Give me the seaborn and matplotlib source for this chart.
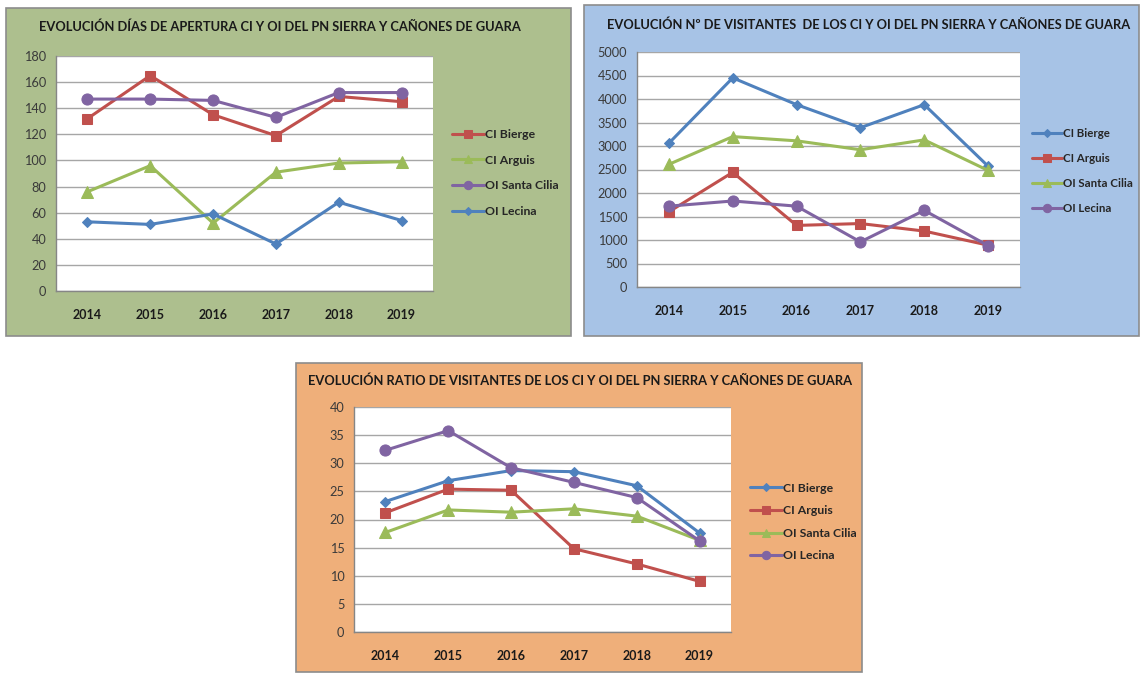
"""
Evolución de días de apertura, visitantes y ratio de visitantes
de los CI y OI del PN Sierra y Cañones de Guara (2014-2019).
"""
import matplotlib
matplotlib.use("Agg")

import pandas as pd
import matplotlib.pyplot as plt
from matplotlib.patches import Rectangle
import seaborn as sns

# ── Data ─────────────────────────────────────────────────────────────────────
YEARS = ["2014", "2015", "2016", "2017", "2018", "2019"]

# Panel 1: días de apertura
dias_bierge      = [132, 165, 135, 119, 149, 145]
dias_arguis      = [76, 96, 52, 91, 98, 99]
dias_santa_cilia = [147, 147, 146, 133, 152, 152]
dias_lecina      = [53, 51, 59, 36, 68, 54]

# Panel 2: nº de visitantes
vis_bierge      = [3060, 4450, 3880, 3390, 3880, 2570]
vis_arguis      = [1600, 2440, 1310, 1350, 1190, 890]
vis_santa_cilia = [2610, 3200, 3110, 2920, 3130, 2480]
vis_lecina      = [1720, 1830, 1720, 960, 1630, 880]

# Panel 3: ratio de visitantes
rat_bierge      = [23.2, 26.9, 28.7, 28.5, 26.0, 17.6]
rat_arguis      = [21.2, 25.4, 25.2, 14.8, 12.1, 9.0]
rat_santa_cilia = [17.7, 21.7, 21.3, 21.9, 20.6, 16.3]
rat_lecina      = [32.3, 35.8, 29.2, 26.6, 23.9, 16.2]

# ── Style ────────────────────────────────────────────────────────────────────
RED, GREEN, PURPLE, BLUE = "#C0504D", "#9BBB59", "#8064A2", "#4F81BD"
BG_GREEN, BG_BLUE, BG_ORANGE = "#ADBF8E", "#A7C3E6", "#EFAF7A"
TXT = "#1a1a1a"

sns.set_style("white")
plt.rcParams["font.family"] = ["Lato", "DejaVu Sans"]

W, H = 1140, 673
fig = plt.figure(figsize=(W / 100, H / 100), dpi=100)


def px_rect(x0, y0, x1, y1):
    """pixel box (top-left origin) -> figure fraction [l, b, w, h]"""
    return [x0 / W, 1 - y1 / H, (x1 - x0) / W, (y1 - y0) / H]


def panel(bg_box, bg_color, ax_box, title, title_xy, series, ymax, ystep,
          leg_xy, leg_spacing, leg_size=8.8):
    # panel background (behind the axes)
    x0, y0, x1, y1 = bg_box
    fig.patches.append(Rectangle((x0 / W, 1 - y1 / H), (x1 - x0) / W, (y1 - y0) / H,
                                 transform=fig.transFigure, facecolor=bg_color,
                                 edgecolor="#8c8c8c", linewidth=1.2, zorder=-5))
    fig.text(title_xy[0] / W, 1 - title_xy[1] / H, title, ha="center", va="center",
             fontsize=9.3, fontweight="bold", color=TXT)

    ax = fig.add_axes(px_rect(*ax_box))
    ax.set_facecolor("white")
    x = list(range(len(YEARS)))
    for label, vals, color, marker, ms in series:
        sns.lineplot(x=x, y=vals, ax=ax, color=color, marker=marker,
                     markersize=ms, markeredgecolor=color, linewidth=2.2,
                     label=label, legend=False)

    ax.set_xlim(-0.5, len(YEARS) - 0.5)
    ax.set_ylim(0, ymax)
    ax.set_yticks(range(0, ymax + 1, ystep))
    ax.set_xticks(x)
    ax.set_xticklabels(YEARS, fontweight="bold", fontsize=9.0, color=TXT)
    ax.set_xticks([i - 0.5 for i in range(len(YEARS) + 1)], minor=True)
    ax.tick_params(axis="x", which="major", length=0, pad=13)
    ax.tick_params(axis="x", which="minor", length=4, color="#868686", direction="out")
    ax.tick_params(axis="y", length=4, color="#868686", direction="out",
                   labelsize=9.2, labelcolor="#3a3a3a", pad=3)
    ax.yaxis.grid(True, color="#a6a6a6", linewidth=1.0)
    ax.set_axisbelow(True)
    for s in ["top", "right"]:
        ax.spines[s].set_visible(False)
    for s in ["left", "bottom"]:
        ax.spines[s].set_color("#868686")
        ax.spines[s].set_linewidth(1.0)
    ax.set_xlabel("")
    ax.set_ylabel("")

    handles, labels = ax.get_legend_handles_labels()
    fig.legend(handles, labels, loc="center left",
               bbox_to_anchor=(leg_xy[0] / W, 1 - leg_xy[1] / H),
               frameon=False, handlelength=2.6, handletextpad=0.1,
               labelspacing=leg_spacing, markerscale=0.75, borderpad=0.2,
               borderaxespad=0, prop={"weight": "bold", "size": leg_size})
    return ax


# ── Panel 1: días de apertura ────────────────────────────────────────────────
panel((6, 8, 571, 336), BG_GREEN, (56, 56, 433, 291),
      "EVOLUCIÓN DÍAS DE APERTURA CI Y OI DEL PN SIERRA Y CAÑONES DE GUARA", (280, 27),
      [("CI Bierge", dias_bierge, RED, "s", 7.5),
       ("CI Arguis", dias_arguis, GREEN, "^", 8),
       ("OI Santa Cilia", dias_santa_cilia, PURPLE, "o", 8),
       ("OI Lecina", dias_lecina, BLUE, "D", 5.5)],
      180, 20, (450, 173), 1.2)

# ── Panel 2: nº de visitantes ────────────────────────────────────────────────
panel((584, 5, 1139, 336), BG_BLUE, (637, 52, 1020, 287),
      "EVOLUCIÓN Nº DE VISITANTES  DE LOS CI Y OI DEL PN SIERRA Y CAÑONES DE GUARA", (869, 25),
      [("CI Bierge", vis_bierge, BLUE, "D", 5.5),
       ("CI Arguis", vis_arguis, RED, "s", 7.5),
       ("OI Santa Cilia", vis_santa_cilia, GREEN, "^", 8),
       ("OI Lecina", vis_lecina, PURPLE, "o", 8)],
      5000, 500, (1030, 171), 1.2, leg_size=8.3)

# ── Panel 3: ratio de visitantes ─────────────────────────────────────────────
panel((296, 363, 862, 672), BG_ORANGE, (354, 407, 731, 632),
      "EVOLUCIÓN RATIO DE VISITANTES DE LOS CI Y OI DEL PN SIERRA Y CAÑONES DE GUARA", (580, 381),
      [("CI Bierge", rat_bierge, BLUE, "D", 5.5),
       ("CI Arguis", rat_arguis, RED, "s", 7.5),
       ("OI Santa Cilia", rat_santa_cilia, GREEN, "^", 8),
       ("OI Lecina", rat_lecina, PURPLE, "o", 8)],
      40, 5, (748, 522), 0.95)

fig.savefig("out.png", dpi=100)
